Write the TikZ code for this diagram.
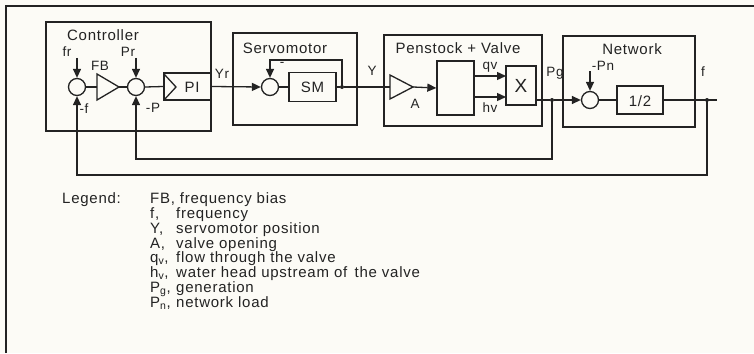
\documentclass[tikz,border=0pt]{standalone}
\usepackage{fontspec}
\setmainfont{Liberation Sans}[LetterSpace=5]
\usetikzlibrary{arrows.meta}
\definecolor{ink}{RGB}{35,35,35}
\definecolor{paper}{RGB}{252,251,246}
\begin{document}
\begin{tikzpicture}[x=1pt,y=-1pt,
  ln/.style={line width=1.3pt, draw=ink},
  blk/.style={draw=ink, line width=1.3pt, rectangle, inner sep=0},
  sumnode/.style={draw=ink, circle, minimum size=17pt, inner sep=0, line width=1.3pt},
  arr/.style={-{Triangle[length=9pt,width=8pt]}},
  lbl/.style={font=\fontsize{13.5}{15}\selectfont, inner sep=0, text=ink},
  ttl/.style={font=\fontsize{15}{17}\selectfont, inner sep=0, text=ink},
  leg/.style={font=\fontsize{15}{17}\selectfont, inner sep=0, anchor=base west, text=ink},
  jdot/.style={circle, fill=ink, minimum size=4pt, inner sep=0}]
\fill[paper] (0,0) rectangle (754,353);
\useasboundingbox (0,0) rectangle (754,353);
% outer frame (cropped)
\draw[line width=1.7pt, ink] (6,353) -- (6,6) -- (754,6);

% group boxes
\node[blk, minimum width=165pt, minimum height=109pt] (ctrl) at (128.5,76.5) {};
\node[blk, minimum width=124pt, minimum height=92pt] (servo) at (295,79) {};
\node[blk, minimum width=158pt, minimum height=91pt] (pen) at (463,80.5) {};
\node[blk, minimum width=132pt, minimum height=91pt] (net) at (629,81.5) {};
\node[ttl] (tctrl) at (103,35) {Controller};
\node[ttl] (tservo) at (285,48) {Servomotor};
\node[ttl] (tpen) at (458,48) {Penstock + Valve};
\node[ttl] (tnet) at (632,49) {Network};

% controller
\node[sumnode] (s1) at (77,87) {};
\node[sumnode] (s2) at (136,87) {};
\draw[ln] (97,74) -- (119,87) -- (97,100) -- cycle;
\coordinate (fbin) at (97,87);
\coordinate (fbout) at (119,87);
\node[blk, minimum width=47pt, minimum height=27pt] (pi) at (187.5,86.5) {};
\draw[ln] (164,74) -- (176,87) -- (164,100);
\node[ttl] (tpi) at (192,87) {PI};
\coordinate (frs) at (77,58);
\coordinate (prs) at (136,58);
\draw[ln,arr] (frs) -- (s1.north);
\draw[ln,arr] (prs) -- (s2.north);
\draw[ln] (s1.east) -- (fbin);
\draw[ln] (fbout) -- (s2.west);
\draw[ln] (s2.east) -- (pi.west);
\node[lbl] (lfr) at (67,52) {fr};
\node[lbl] (lfb) at (100,66) {FB};
\node[lbl] (lpr) at (128,52) {Pr};
\node[lbl] (lmf) at (84,109) {-f};
\node[lbl] (lmp) at (153,108) {-P};

% servomotor
\node[sumnode] (s3) at (270,87) {};
\node[blk, minimum width=47pt, minimum height=29pt] (sm) at (312.5,87) {};
\node[ttl] (tsm) at (312.5,87) {SM};
\node[jdot] (j1) at (342,87) {};
\coordinate (smfb) at (342,60);
\draw[ln,arr] (pi.east) -- (s3.west);
\draw[ln] (s3.east) -- (sm.west);
\draw[ln] (sm.east) -- (j1);
\draw[ln,arr] (j1.center) -- (smfb) -| (s3.north);
\node[lbl] (lyr) at (222,74) {Yr};
\node[lbl] (lminus) at (282,64) {-};

% penstock + valve
\draw[ln] (390,75) -- (413,87) -- (390,99) -- cycle;
\coordinate (ain) at (390,87);
\coordinate (aout) at (413,87);
\node[blk, minimum width=37pt, minimum height=54pt] (big) at (455.5,88) {};
\node[blk, minimum width=30pt, minimum height=39pt] (xb) at (521,85.5) {};
\node[font=\fontsize{19}{20}\selectfont, inner sep=0, text=ink] (tx) at (521,86) {X};
\coordinate (qa) at (474,76);
\coordinate (qb) at (506,76);
\coordinate (ha) at (474,97);
\coordinate (hb) at (506,97);
\coordinate (xo) at (536,100);
\draw[ln] (j1) -- (ain);
\draw[ln,arr] (aout) -- (big.west);
\draw[ln,arr] (qa) -- (qb);
\draw[ln,arr] (ha) -- (hb);
\node[lbl] (ly) at (372,71) {Y};
\node[lbl] (la) at (415,104) {A};
\node[lbl] (lqv) at (490,67) {qv};
\node[lbl] (lhv) at (490,108) {hv};

% network
\node[jdot] (j2) at (552,100) {};
\node[sumnode] (s4) at (590,100) {};
\node[blk, minimum width=46pt, minimum height=28pt] (half) at (640,100) {};
\node[ttl] (thalf) at (640,101) {1/2};
\node[jdot] (j3) at (707,100) {};
\coordinate (fend) at (717,100);
\coordinate (pns) at (590,71);
\draw[ln] (xo) -- (j2);
\draw[ln,arr] (j2) -- (s4.west);
\draw[ln,arr] (pns) -- (s4.north);
\draw[ln] (s4.east) -- (half.west);
\draw[ln] (half.east) -- (fend);
\node[lbl] (lpg) at (555,73) {Pg};
\node[lbl] (lpn) at (603,66) {-Pn};
\node[lbl] (lf) at (703,72) {f};

% feedback loops
\coordinate (c1) at (707,175);
\coordinate (c2) at (552,159);
\draw[ln,arr] (j3.center) -- (c1) -| (s1.south);
\draw[ln,arr] (j2.center) -- (c2) -| (s2.south);

% legend
\node[leg] (lg) at (62,203) {Legend:};
\node[leg] (k1) at (150,203) {FB, frequency bias};
\node[leg] (k2) at (150,218) {f,};
\node[leg] (d2) at (176,218) {frequency};
\node[leg] (k3) at (150,233) {Y,};
\node[leg] (d3) at (176,233) {servomotor position};
\node[leg] (k4) at (150,248) {A,};
\node[leg] (d4) at (176,248) {valve opening};
\node[leg] (k5) at (150,262) {q\textsubscript{v},};
\node[leg] (d5) at (176,262) {flow through the valve};
\node[leg] (k6) at (150,277) {h\textsubscript{v},};
\node[leg] (d6) at (176,277) {water head upstream of\, the valve};
\node[leg] (k7) at (150,292) {P\textsubscript{g},};
\node[leg] (d7) at (176,292) {generation};
\node[leg] (k8) at (150,307) {P\textsubscript{n},};
\node[leg] (d8) at (176,307) {network load};
\end{tikzpicture}
\end{document}
